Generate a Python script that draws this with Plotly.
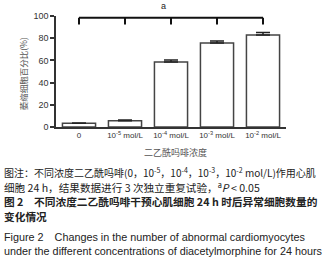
import plotly.graph_objects as go

categories = ["0", "10<sup>-5</sup> mol/L", "10<sup>-4</sup> mol/L", "10<sup>-3</sup> mol/L", "10<sup>-2</sup> mol/L"]
values = [3.3, 5.7, 58.6, 75.6, 82.8]
errors = [0.3, 0.5, 1.8, 1.8, 2.4]
y_ticks = [0, 20, 40, 60, 80, 100]
y_title = "萎缩细胞百分比(%)"
x_title = "二乙酰吗啡浓度"
sig_label = "a"
caption_lines = [
    ("图注：不同浓度二乙酰吗啡(0，10<sup>-5</sup>，10<sup>-4</sup>，10<sup>-3</sup>，10<sup>-2</sup> mol/L)作用心肌", 173, 10.0),
    ("细胞 24 h，结果数据进行 3 次独立重复试验，<sup>a</sup><i>P</i> < 0.05", 187, 10.6),
    ("<b>图 2　不同浓度二乙酰吗啡干预心肌细胞 24 h 时后异常细胞数量的</b>", 202, 10.7),
    ("<b>变化情况</b>", 217, 10.7),
    ("Figure 2　Changes in the number of abnormal cardiomyocytes", 237, "en"),
    ("under the different concentrations of diacetylmorphine for 24 hours", 252, "en"),
]

W, H = 325, 263
L, R, T, B = 56, 38.5, 15.5, 136
PW, PH = W - L - R, H - T - B

def px_x(p):
    return (p - L) / PW

def px_y(p):
    return (H - B - p) / PH

fig = go.Figure()
fig.add_trace(go.Bar(
    x=list(range(len(categories))), y=values, width=0.72,
    marker=dict(color="white", line=dict(color="#444444", width=1.5)),
    error_y=dict(type="data", array=errors, arrayminus=[0] * len(errors), symmetric=False,
                 color="#222222", thickness=1.5, width=7),
    showlegend=False, hoverinfo="skip",
))

# significance bracket
br_top, br_bot = 98.5, 92.3
fig.add_shape(type="line", x0=0, x1=len(categories) - 1, y0=br_top, y1=br_top,
              xref="x", yref="y", line=dict(color="#111111", width=2))
for i in range(len(categories)):
    fig.add_shape(type="line", x0=i, x1=i, y0=br_top, y1=br_bot,
                  xref="x", yref="y", line=dict(color="#111111", width=2))

ann = []
ann.append(dict(text=sig_label, x=px_x(164), y=px_y(5), xref="paper", yref="paper",
                xanchor="center", yanchor="middle",
                showarrow=False, font=dict(size=9, color="#222", family="Arial, Liberation Sans")))
ann.append(dict(text=y_title, x=px_x(23), y=px_y(74), xref="paper", yref="paper", textangle=-90,
                xanchor="center", yanchor="middle",
                showarrow=False, font=dict(size=8.5, color="#555", family="Noto Sans CJK SC")))
ann.append(dict(text=x_title, x=px_x(176), y=px_y(153), xref="paper", yref="paper",
                xanchor="center", yanchor="middle",
                showarrow=False, font=dict(size=9, color="#555", family="Noto Sans CJK SC")))
for text, ypx, style in caption_lines:
    if style == "en":
        font = dict(size=10.8, color="#222", family="Arial, Liberation Sans")
    else:
        font = dict(size=style, color="#222", family="Noto Sans CJK SC")
    ann.append(dict(text=text, x=px_x(2), y=px_y(ypx), xref="paper", yref="paper",
                    xanchor="left", yanchor="middle", showarrow=False, font=font))

fig.update_layout(
    width=W, height=H, margin=dict(l=L, r=R, t=T, b=B),
    paper_bgcolor="white", plot_bgcolor="white",
    annotations=ann,
    xaxis=dict(range=[-0.5, len(categories) - 0.5], tickvals=list(range(len(categories))),
               ticktext=categories, showline=True, linecolor="#333", linewidth=1.5,
               ticks="", showgrid=False, zeroline=False,
               tickfont=dict(size=8, color="#333", family="Arial, Liberation Sans")),
    yaxis=dict(range=[0, 100], tickvals=y_ticks, showline=True, linecolor="#333", linewidth=1.5,
               ticks="outside", ticklen=4, tickwidth=1.5, tickcolor="#333",
               showgrid=False, zeroline=False,
               tickfont=dict(size=9, color="#333", family="Arial, Liberation Sans")),
    bargap=0.28,
)

fig.write_html("out.html", config={"displayModeBar": False},
               post_script="document.body.style.margin='0';document.body.style.overflow='hidden';")
